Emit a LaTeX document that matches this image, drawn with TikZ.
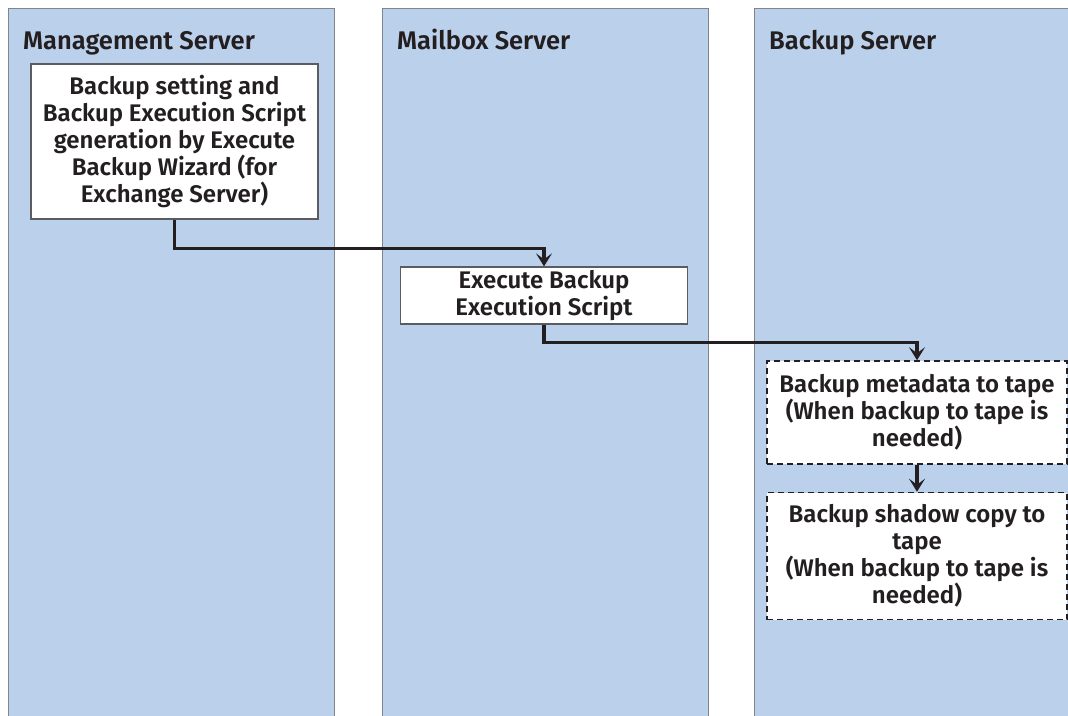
\documentclass[tikz,border=0pt]{standalone}
\usepackage{fontspec}
\setmainfont{Fira Sans}[BoldFont={Fira Sans SemiBold}]
\usepackage{xcolor}
\usetikzlibrary{arrows.meta, positioning, calc}
\definecolor{lanefill}{RGB}{187, 208, 235}
\definecolor{laneborder}{RGB}{128, 132, 140}
\definecolor{inkline}{RGB}{35, 31, 32}
\tikzset{
  font=\bfseries\fontsize{24}{27}\selectfont,
  lanebox/.style={
    rectangle, draw=laneborder, fill=lanefill, line width=1.3pt,
    anchor=north west, minimum width=326pt, minimum height=720pt
  },
  lanetitle/.style={anchor=base west, inner sep=0pt, text=inkline,
    font=\bfseries\fontsize{25.5}{27}\selectfont},
  stepbox/.style={
    rectangle, draw=laneborder!70!black, fill=white, line width=1.3pt,
    align=center, inner sep=2pt, text=inkline
  },
  optbox/.style={
    rectangle, draw=inkline, fill=white, line width=1.6pt,
    dash pattern=on 6pt off 4pt, align=center, inner sep=2pt, text=inkline
  },
  flowline/.style={
    draw=inkline, line width=3.2pt,
    -{Stealth[length=13pt, width=16pt, inset=6pt]}
  }
}
\begin{document}
\begin{tikzpicture}[x=1pt, y=-1pt]
  \clip (0,0) rectangle (1068,715);
  \fill[white] (0,0) rectangle (1068,715);

  % Swimlanes
  \node[lanebox] (lane_mgmt) at (8,8) {};
  \node[lanebox] (lane_mail) at (382,8) {};
  \node[lanebox, minimum width=340pt] (lane_bkup) at (754,8) {};

  % Lane titles
  \node[lanetitle] (title_mgmt) at (23,49) {Management Server};
  \node[lanetitle] (title_mail) at (397,49) {Mailbox Server};
  \node[lanetitle] (title_bkup) at (769,49) {Backup Server};

  % Step 1: wizard
  \node[stepbox, minimum width=287pt, minimum height=155pt] (wizard) at (174.5,141.5) {
    Backup setting and\\
    Backup Execution Script\\
    generation by Execute\\
    Backup Wizard (for\\
    Exchange Server)
  };

  % Step 2: run script
  \node[stepbox, minimum width=287pt, minimum height=57pt] (runscript) at (544,295.5) {
    Execute Backup\\
    Execution Script
  };

  % Step 3: metadata to tape
  \node[optbox, minimum width=300pt, minimum height=103pt] (metatape) at (917,412.5) {
    Backup metadata to tape\\
    (When backup to tape is\\
    needed)
  };

  % Step 4: shadow copy to tape
  \node[optbox, minimum width=300pt, minimum height=127pt] (shadowtape) at (917,556) {
    Backup shadow copy to\\
    tape\\
    (When backup to tape is\\
    needed)
  };

  % Connections
  \draw[flowline] (wizard.south) -- ++(0,29) -| (runscript.north);
  \draw[flowline] (runscript.south) -- ++(0,18) -| (metatape.north);
  \draw[flowline] (metatape.south) -- (shadowtape.north);

\end{tikzpicture}
\end{document}
